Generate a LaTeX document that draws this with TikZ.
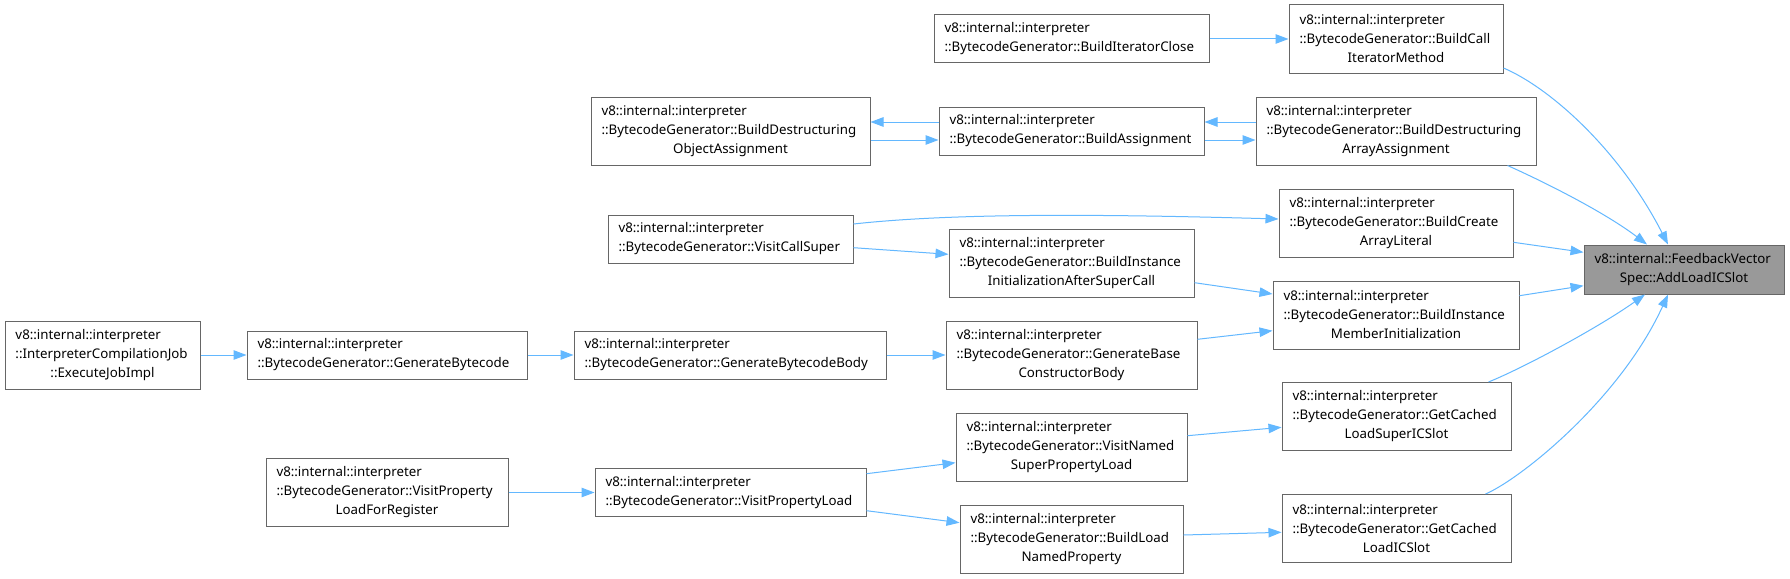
\documentclass[tikz,border=0pt]{standalone}
\usepackage{fontspec}
\setmainfont{Noto Sans}
\usetikzlibrary{arrows.meta,calc}
\definecolor{edgeblue}{HTML}{63B8FF}
\definecolor{boxgrey}{HTML}{666666}
\definecolor{hilite}{HTML}{999999}
\newcommand{\lastrow}[1]{\makebox[\hsize][c]{#1}}

\begin{document}
\begin{tikzpicture}[x=1pt,y=-1pt,
  fn/.style={draw=boxgrey,line width=1pt,fill=white,inner xsep=10.5pt,inner ysep=0pt,
    align=flush left,font=\fontsize{13.3}{19}\selectfont},
  call/.style={draw=edgeblue,line width=1pt,-{Triangle[length=13pt,width=9.5pt]}}]
\fill[white,use as bounding box] (0,0) rectangle (1790,578);

\node[fn,text width=174pt,minimum height=68pt] (icj) at (102.5,355)
  {v8::internal::interpreter\\::InterpreterCompilationJob\\\lastrow{::ExecuteJobImpl}};
\node[fn,text width=259pt,minimum height=48pt] (gb) at (387,355)
  {v8::internal::interpreter\\::BytecodeGenerator::GenerateBytecode};
\node[fn,text width=291pt,minimum height=48pt] (gbb) at (730,355)
  {v8::internal::interpreter\\::BytecodeGenerator::GenerateBytecodeBody};
\node[fn,text width=230pt,minimum height=68pt] (gbcb) at (1071.5,355)
  {v8::internal::interpreter\\::BytecodeGenerator::GenerateBase\\\lastrow{ConstructorBody}};
\node[fn,text width=225pt,minimum height=68pt] (bimi) at (1396,315)
  {v8::internal::interpreter\\::BytecodeGenerator::BuildInstance\\\lastrow{MemberInitialization}};
\node[fn,text width=224pt,minimum height=68pt] (biiasc) at (1071.5,263)
  {v8::internal::interpreter\\::BytecodeGenerator::BuildInstance\\\lastrow{InitializationAfterSuperCall}};
\node[fn,text width=224pt,minimum height=48pt] (vcs) at (730.5,239)
  {v8::internal::interpreter\\::BytecodeGenerator::VisitCallSuper};
\node[fn,text width=213pt,minimum height=68pt] (bcal) at (1396,223)
  {v8::internal::interpreter\\::BytecodeGenerator::BuildCreate\\\lastrow{ArrayLiteral}};
\node[fn,text width=258pt,minimum height=68pt] (bdoa) at (730.5,131)
  {v8::internal::interpreter\\::BytecodeGenerator::BuildDestructuring\\\lastrow{ObjectAssignment}};
\node[fn,text width=244pt,minimum height=48pt] (ba) at (1071.5,131)
  {v8::internal::interpreter\\::BytecodeGenerator::BuildAssignment};
\node[fn,text width=259pt,minimum height=68pt] (bdaa) at (1396,131)
  {v8::internal::interpreter\\::BytecodeGenerator::BuildDestructuring\\\lastrow{ArrayAssignment}};
\node[fn,text width=254pt,minimum height=48pt] (bic) at (1071.5,39)
  {v8::internal::interpreter\\::BytecodeGenerator::BuildIteratorClose};
\node[fn,text width=193pt,minimum height=68pt] (bcim) at (1396,39)
  {v8::internal::interpreter\\::BytecodeGenerator::BuildCall\\\lastrow{IteratorMethod}};
\node[fn,fill=hilite,text width=179pt,minimum height=49pt] (alic) at (1684,269.5)
  {v8::internal::FeedbackVector\\\lastrow{Spec::AddLoadICSlot}};
\node[fn,text width=208pt,minimum height=68pt] (gclsic) at (1396.5,416.5)
  {v8::internal::interpreter\\::BytecodeGenerator::GetCached\\\lastrow{LoadSuperICSlot}};
\node[fn,text width=208pt,minimum height=68pt] (gclic) at (1396.5,528.5)
  {v8::internal::interpreter\\::BytecodeGenerator::GetCached\\\lastrow{LoadICSlot}};
\node[fn,text width=210pt,minimum height=68pt] (vnspl) at (1071.5,447)
  {v8::internal::interpreter\\::BytecodeGenerator::VisitNamed\\\lastrow{SuperPropertyLoad}};
\node[fn,text width=202pt,minimum height=68pt] (blnp) at (1071.5,539)
  {v8::internal::interpreter\\::BytecodeGenerator::BuildLoad\\\lastrow{NamedProperty}};
\node[fn,text width=250pt,minimum height=48pt] (vpl) at (730.5,492.5)
  {v8::internal::interpreter\\::BytecodeGenerator::VisitPropertyLoad};
\node[fn,text width=221pt,minimum height=68pt] (vplfr) at (387,492.5)
  {v8::internal::interpreter\\::BytecodeGenerator::VisitProperty\\\lastrow{LoadForRegister}};

\draw[call] (icj.east) -- (gb.west);
\draw[call] (gb.east) -- (gbb.west);
\draw[call] (gbb.east) -- (gbcb.west);
\draw[call] ($(gbcb.east)+(0,-15.7)$) -- ($(bimi.west)+(0,15.7)$);
\draw[call] ($(biiasc.east)+(0,19.7)$) -- ($(bimi.west)+(0,-21)$);
\draw[call] ($(vcs.east)+(0,8.7)$) -- ($(biiasc.west)+(0,-8.7)$);
\draw[call] ($(vcs.east)+(0,-15)$) .. controls +(100,-11) and +(-180,-5) .. ($(bcal.west)+(0,-4)$);
\draw[call] (bic.east) -- (bcim.west);
\draw[call] ($(bdaa.west)+(0,-9)$) -- ($(ba.east)+(0,-9)$);
\draw[call] ($(ba.east)+(0,9)$) -- ($(bdaa.west)+(0,9)$);
\draw[call] ($(ba.west)+(0,-9)$) -- ($(bdoa.east)+(0,-9)$);
\draw[call] ($(bdoa.east)+(0,9)$) -- ($(ba.west)+(0,9)$);
\draw[call] ($(bcal.east)+(0,19.3)$) -- ($(alic.west)+(0,-17.2)$);
\draw[call] ($(bimi.east)+(0,-19.3)$) -- ($(alic.west)+(0,16.2)$);
\draw[call] ($(bcim.east)+(0,29)$) .. controls +(47,20) and +(-48,-94) .. ($(alic.north)+(-16,0)$);
\draw[call] ($(bdaa.south east)+(-29,0)$) .. controls +(38,17) and +(-42,-32) .. ($(alic.north)+(-37,0)$);
\draw[call] ($(gclsic.north east)+(-23,0)$) .. controls +(37,-15) and +(-45,32) .. ($(alic.south)+(-39,0)$);
\draw[call] ($(gclic.north east)+(-26,0)$) .. controls +(35,-15) and +(-48,105) .. ($(alic.south)+(-16,0)$);
\draw[call] ($(vnspl.east)+(0,-11.3)$) -- ($(gclsic.west)+(0,10.8)$);
\draw[call] ($(blnp.east)+(0,-4)$) -- ($(gclic.west)+(0,3.8)$);
\draw[call] ($(vpl.east)+(0,-18.8)$) -- ($(vnspl.west)+(0,15.7)$);
\draw[call] ($(vpl.east)+(0,18.2)$) -- ($(blnp.west)+(0,-16.3)$);
\draw[call] (vplfr.east) -- (vpl.west);
\end{tikzpicture}
\end{document}
